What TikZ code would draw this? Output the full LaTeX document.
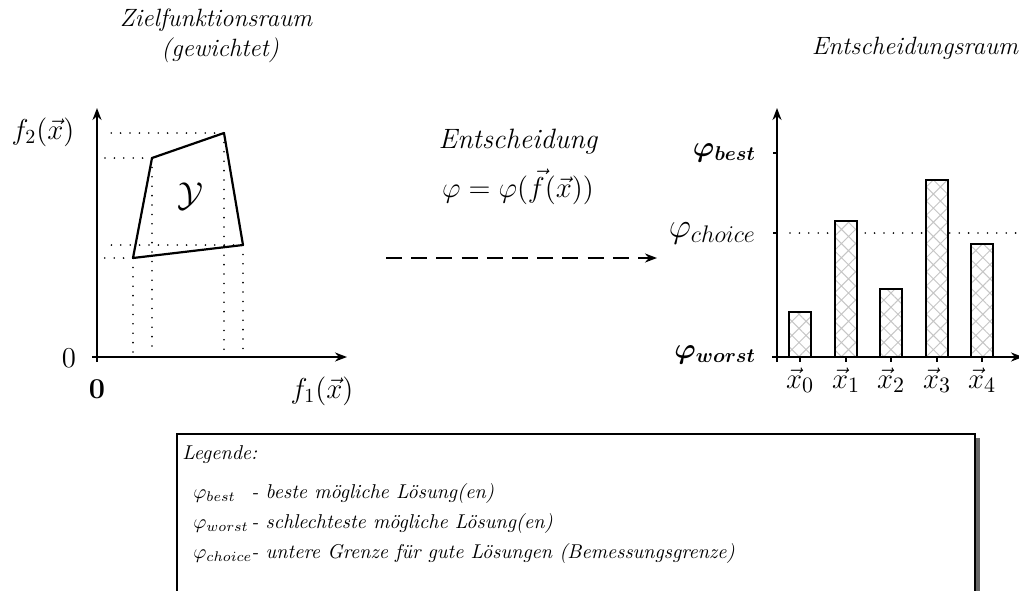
\documentclass[tikz,border=0pt]{standalone}
\usepackage{amsmath}
\usetikzlibrary{arrows.meta, patterns.meta, shadows, positioning}

\newcommand{\fsz}[1]{\fontsize{#1}{1.2\dimexpr#1pt\relax}\selectfont}

\begin{document}
\begin{tikzpicture}[x=0.5pt, y=-0.5pt,
  axis/.style={line width=1pt, -{Stealth[length=6pt, width=4.5pt]}},
  guide/.style={line width=0.9pt, line cap=round, dash pattern=on 0pt off 4.7pt},
  bar/.style={line width=1.3pt, preaction={fill=white},
              pattern={Hatch[angle=45, distance=5pt, line width=0.5pt]}, pattern color=gray!45},
  lbl/.style={font=\fsz{14.5}},
  ttl/.style={font=\fsz{12.5}\itshape, align=center},
  legtxt/.style={anchor=base west, inner sep=0pt, font=\itshape}
]
  \useasboundingbox (0,0) rectangle (1019,590);

  % Zielfunktionsraum
  \node[ttl] (ztitle) at (216,20) {Zielfunktionsraum};
  \node[ttl] (zsub) at (220,50) {(gewichtet)};
  \coordinate (o1) at (97,357);
  \draw[axis] (92,357) -- (347,357);
  \draw[axis] (97,362) -- (97,108);
  \coordinate (v1) at (133,258);
  \coordinate (v2) at (152,158);
  \coordinate (v3) at (224,133);
  \coordinate (v4) at (243,245);
  \foreach \v in {v1,v2,v3,v4} {
    \draw[guide, shorten >=2.5pt] (\v) -- (\v |- o1);
    \draw[guide, shorten >=3.5pt] (\v) -- (\v -| o1);
  }
  \draw[line width=1.1pt, line join=round] (v1) -- (v2) -- (v3) -- (v4) -- cycle;
  \node[font=\fsz{16}] (ylab) at (190,196) {$\mathcal{Y}$};
  \node[lbl] (f2) at (43,132) {$f_2(\vec{x})$};
  \node[font=\fsz{15}] (zl) at (69,358) {$0$};
  \node[font=\fsz{15}] (zb) at (97,389) {$\mathbf{0}$};
  \node[lbl] (f1) at (322,391) {$f_1(\vec{x})$};

  % Entscheidung
  \node[font=\fsz{14}\itshape, inner sep=0pt] (dec) at (518,142) {Entscheidung};
  \node[font=\fsz{15}, inner sep=0pt] (phi) at (518,187) {$\varphi=\varphi(\vec{f}(\vec{x}))$};
  \coordinate (ds) at (386,258);
  \coordinate (de) at (657,258);
  \draw[line width=1.1pt, dash pattern=on 8pt off 4.6pt, -{Stealth[length=6pt, width=4.5pt]}] (ds) -- (de);

  % Entscheidungsraum
  \node[ttl] (etitle) at (915,48) {Entscheidungsraum};
  \coordinate (o2) at (777,357);
  \draw[guide] (790,233) -- (1019,233);
  \foreach \x/\h [count=\i from 0] in {800/312, 846/221, 891/289, 937/180, 982/244} {
    \draw[bar] (\x-11,357) rectangle (\x+11,\h);
    \draw[line width=0.6pt] (\x,357) -- (\x,362);
    \node[font=\fsz{15.5}, anchor=base] (x\i) at (\x,388) {$\vec{x}_{\i}$};
  }
  \draw[axis] (772,357) -- (1023,357);
  \draw[axis] (777,362) -- (777,108);
  \draw[line width=0.6pt] (773,153) -- (777,153);
  \draw[line width=0.6pt] (773,233) -- (777,233);
  \node[font=\fsz{14.2}, anchor=east] (best) at (763,153) {$\boldsymbol{\varphi_{best}}$};
  \node[font=\fsz{16.5}, anchor=east] (choice) at (763,233) {$\varphi_{choice}$};
  \node[font=\fsz{14.2}, anchor=east] (worst) at (763,355) {$\boldsymbol{\varphi_{worst}}$};

  % Legende
  \draw[line width=1pt, fill=white,
        drop shadow={shadow xshift=2.5pt, shadow yshift=-2pt, fill=black!60, opacity=1}]
    (177,434) rectangle (975,640);
  \node[legtxt] (leg) at (182,459) {Legende:};
  \node[legtxt] (lb) at (193,498) {$\varphi_{best}$};
  \node[legtxt] (lw) at (193,528) {$\varphi_{worst}$};
  \node[legtxt] (lc) at (193,558) {$\varphi_{choice}$};
  \node[legtxt] (tb) at (251,498) {- beste mögliche Lösung(en)};
  \node[legtxt] (tw) at (251,528) {- schlechteste mögliche Lösung(en)};
  \node[legtxt] (tc) at (251,558) {- untere Grenze für gute Lösungen (Bemessungsgrenze)};
\end{tikzpicture}
\end{document}
